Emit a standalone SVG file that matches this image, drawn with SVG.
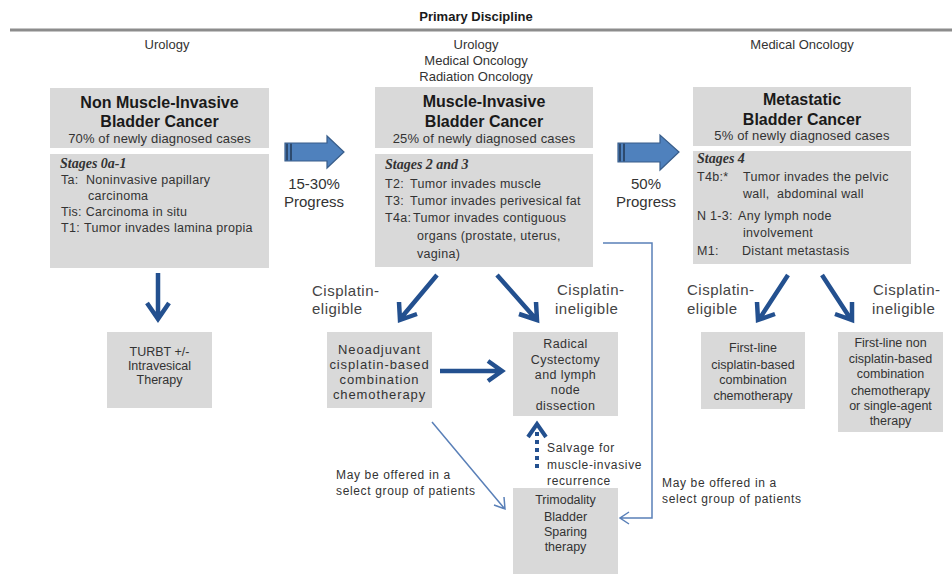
<svg xmlns="http://www.w3.org/2000/svg" width="952" height="574" viewBox="0 0 952 574">
<style>
text{font-family:"Liberation Sans",Arial,sans-serif;fill:#2b2b2b}
.hdr{font-size:13px;fill:#333}
.ttl{font-size:16px;font-weight:bold;fill:#1a1a1a}
.pct{font-size:13px;fill:#333;letter-spacing:0.15px}
.stg{font-family:"Liberation Serif","Times New Roman",serif;font-size:14px;font-weight:bold;font-style:italic;fill:#333}
.body{font-size:12.5px;fill:#333;letter-spacing:0.3px}
.lbl{font-size:15px;fill:#444;letter-spacing:0.5px}
.prog{font-size:15px;fill:#333}
.box{fill:#d9d9d9}
.bt{font-size:12.5px;fill:#333;text-anchor:middle}
.wide{font-size:13px;letter-spacing:0.9px}
.note{font-size:12px;fill:#333;letter-spacing:0.65px}
.thick{stroke:#23508f;stroke-width:4.5;fill:none;stroke-linecap:butt}
.thin{stroke:#5a80b8;stroke-width:1.5;fill:none}
.blk{fill:#4f81bd;stroke:#385d8a;stroke-width:1.2}
</style>

<g id="header">
<text x="476" y="21" text-anchor="middle" style="font-size:13px;font-weight:bold;fill:#1a1a1a">Primary Discipline</text>
<line x1="10" y1="30" x2="952" y2="30" stroke="#8c8c8c" stroke-width="3"/>
<text class="hdr" x="167" y="49" text-anchor="middle">Urology</text>
<text class="hdr" x="476" y="49" text-anchor="middle">Urology</text>
<text class="hdr" x="476" y="65" text-anchor="middle">Medical Oncology</text>
<text class="hdr" x="476" y="81" text-anchor="middle">Radiation Oncology</text>
<text class="hdr" x="802" y="49" text-anchor="middle">Medical Oncology</text>
</g>

<g id="nmibc">
<rect class="box" x="50" y="88" width="219" height="60"/>
<rect class="box" x="50" y="154" width="219" height="114"/>
<text class="ttl" x="159.5" y="108" text-anchor="middle">Non Muscle-Invasive</text>
<text class="ttl" x="159.5" y="127" text-anchor="middle">Bladder Cancer</text>
<text class="pct" x="159.5" y="143" text-anchor="middle">70% of newly diagnosed cases</text>
<text class="stg" x="60" y="168">Stages 0a-1</text>
<text class="body" y="184"><tspan x="61">Ta:</tspan><tspan x="86">Noninvasive papillary</tspan></text>
<text class="body" x="88" y="200">carcinoma</text>
<text class="body" x="61" y="216">Tis: Carcinoma in situ</text>
<text class="body" y="232"><tspan x="61">T1:</tspan><tspan x="84">Tumor invades lamina propia</tspan></text>
</g>

<g id="mibc">
<rect class="box" x="375" y="87" width="218" height="61"/>
<rect class="box" x="375" y="154" width="218" height="113"/>
<text class="ttl" x="484" y="107" text-anchor="middle">Muscle-Invasive</text>
<text class="ttl" x="484" y="127" text-anchor="middle">Bladder Cancer</text>
<text class="pct" x="484" y="143" text-anchor="middle">25% of newly diagnosed cases</text>
<text class="stg" x="385" y="169">Stages 2 and 3</text>
<text class="body" y="188"><tspan x="385">T2:</tspan><tspan x="410">Tumor invades muscle</tspan></text>
<text class="body" y="205"><tspan x="385">T3:</tspan><tspan x="410">Tumor invades perivesical fat</tspan></text>
<text class="body" y="222"><tspan x="385">T4a:</tspan><tspan x="413">Tumor invades contiguous</tspan></text>
<text class="body" x="417" y="240">organs (prostate, uterus,</text>
<text class="body" x="417" y="258">vagina)</text>
</g>

<g id="metastatic">
<rect class="box" x="693" y="87" width="218" height="59"/>
<rect class="box" x="693" y="151" width="218" height="113"/>
<text class="ttl" x="802" y="105" text-anchor="middle">Metastatic</text>
<text class="ttl" x="802" y="125" text-anchor="middle">Bladder Cancer</text>
<text class="pct" x="802" y="140" text-anchor="middle">5% of newly diagnosed cases</text>
<text class="stg" x="697" y="163">Stages 4</text>
<text class="body" y="181"><tspan x="697">T4b:*</tspan><tspan x="743">Tumor invades the pelvic</tspan></text>
<text class="body" x="743" y="198" xml:space="preserve">wall,  abdominal wall</text>
<text class="body" y="220"><tspan x="697">N 1-3:</tspan><tspan x="738">Any lymph node</tspan></text>
<text class="body" x="743" y="237">involvement</text>
<text class="body" y="255"><tspan x="697">M1:</tspan><tspan x="742">Distant metastasis</tspan></text>
</g>

<g id="turbt">
<rect class="box" x="107" y="332" width="105" height="76"/>
<text class="bt" x="159.5" y="356">TURBT +/-</text>
<text class="bt" x="159.5" y="370">Intravesical</text>
<text class="bt" x="159.5" y="384">Therapy</text>
</g>

<g id="neoadjuvant">
<rect class="box" x="327" y="332" width="105" height="76"/>
<text class="bt wide" x="379.5" y="354">Neoadjuvant</text>
<text class="bt wide" x="379.5" y="369">cisplatin-based</text>
<text class="bt wide" x="379.5" y="384">combination</text>
<text class="bt wide" x="379.5" y="399">chemotherapy</text>
</g>

<g id="radical">
<rect class="box" x="513" y="332" width="105" height="84"/>
<text class="bt" x="565.5" y="348" style="letter-spacing:0.4px">Radical</text>
<text class="bt" x="565.5" y="364" style="letter-spacing:0.4px">Cystectomy</text>
<text class="bt" x="565.5" y="379" style="letter-spacing:0.4px">and lymph</text>
<text class="bt" x="565.5" y="394" style="letter-spacing:0.4px">node</text>
<text class="bt" x="565.5" y="410" style="letter-spacing:0.4px">dissection</text>
</g>

<g id="trimodality">
<rect class="box" x="513" y="488" width="105" height="86"/>
<text class="bt" x="565.5" y="504">Trimodality</text>
<text class="bt" x="565.5" y="521">Bladder</text>
<text class="bt" x="565.5" y="536">Sparing</text>
<text class="bt" x="565.5" y="551">therapy</text>
</g>

<g id="firstline">
<rect class="box" x="701" y="332" width="104" height="77"/>
<text class="bt" x="753" y="352">First-line</text>
<text class="bt" x="753" y="369">cisplatin-based</text>
<text class="bt" x="753" y="384">combination</text>
<text class="bt" x="753" y="400">chemotherapy</text>
</g>

<g id="firstline-non">
<rect class="box" x="838" y="332" width="105" height="100"/>
<text class="bt" x="890.5" y="347">First-line non</text>
<text class="bt" x="890.5" y="363">cisplatin-based</text>
<text class="bt" x="890.5" y="378">combination</text>
<text class="bt" x="890.5" y="395">chemotherapy</text>
<text class="bt" x="890.5" y="410">or single-agent</text>
<text class="bt" x="890.5" y="425">therapy</text>
</g>

<g id="connectors">
<polygon class="blk" points="285,143 327,143 327,136 344,152 327,168 327,161 285,161"/>
<rect x="286" y="143.6" width="2" height="16.8" fill="#2d4a6e"/>
<rect x="290" y="143.6" width="2" height="16.8" fill="#2d4a6e"/>
<polygon class="blk" points="618,143 660,143 660,135 679,152 660,170 660,162 618,162"/>
<rect x="619" y="143.6" width="2" height="17.8" fill="#2d4a6e"/>
<rect x="623" y="143.6" width="2" height="17.8" fill="#2d4a6e"/>

<path class="thick" d="M158,273 V318 M147,303 L158,319 L169,303"/>
<path class="thick" d="M437,275 L401,318 M399,302 L400,320 L417,314"/>
<path class="thick" d="M497,275 L535,318 M519,314 L537,320 L536,302"/>
<path class="thick" d="M440,371 H501 M488,361 L502,371 L488,381"/>
<path class="thick" d="M788,275 L760,318 M757,302 L758,320 L775,314"/>
<path class="thick" d="M822,275 L850,318 M835,314 L852,320 L852,302"/>

<path d="M537,468 V428" stroke="#23508f" stroke-width="4" stroke-dasharray="4,4" fill="none"/>
<path class="thick" style="stroke-width:4" d="M528,437 L537,424 L546,437"/>

<path class="thin" d="M432,422 L504,508 M494,505 L505,509 L504,497"/>
<path class="thin" d="M603,243 H652 V518 H621 M629,512 L620,518 L629,524"/>
</g>

<g id="labels">
<text class="prog" x="314" y="189" text-anchor="middle">15-30%</text>
<text class="prog" x="314" y="207" text-anchor="middle">Progress</text>
<text class="prog" x="646" y="189" text-anchor="middle">50%</text>
<text class="prog" x="646" y="207" text-anchor="middle">Progress</text>
<text class="lbl" x="312" y="296">Cisplatin-</text>
<text class="lbl" x="312" y="314">eligible</text>
<text class="lbl" x="557" y="295">Cisplatin-</text>
<text class="lbl" x="555" y="314">ineligible</text>
<text class="lbl" x="687" y="295">Cisplatin-</text>
<text class="lbl" x="687" y="314">eligible</text>
<text class="lbl" x="873" y="295">Cisplatin-</text>
<text class="lbl" x="872" y="314">ineligible</text>
<text class="note" x="547" y="452">Salvage for</text>
<text class="note" x="547" y="469">muscle-invasive</text>
<text class="note" x="547" y="485">recurrence</text>
<text class="note" x="336" y="479">May be offered in a</text>
<text class="note" x="336" y="495">select group of patients</text>
<text class="note" x="662" y="487">May be offered in a</text>
<text class="note" x="662" y="503">select group of patients</text>
</g>
</svg>
